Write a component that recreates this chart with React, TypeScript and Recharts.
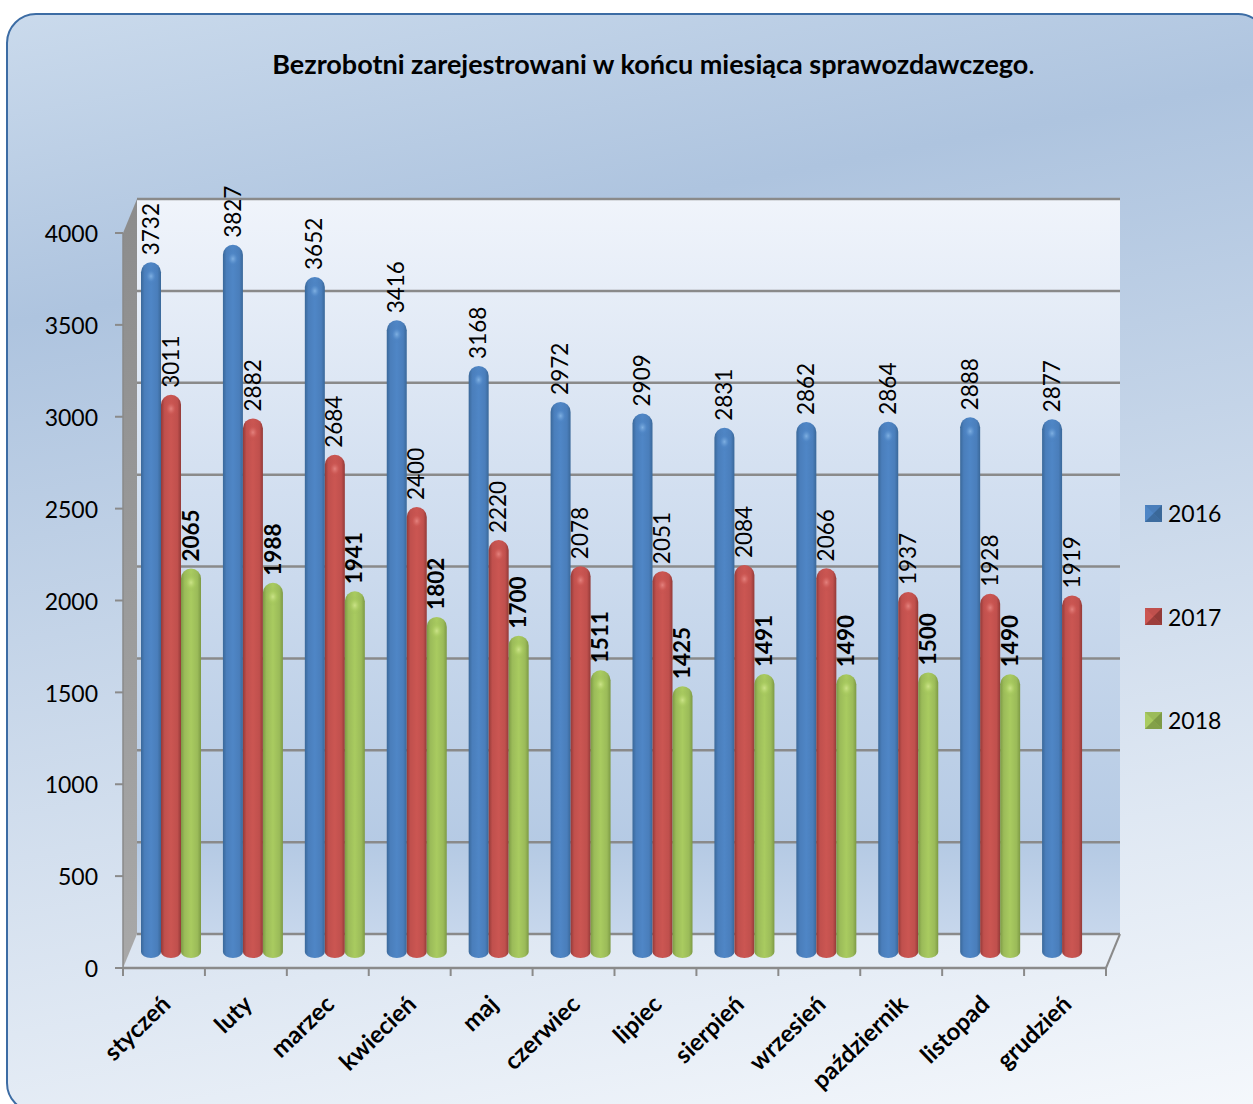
import { BarChart, Bar, XAxis, YAxis, CartesianGrid, Legend, LabelList } from 'recharts';

const months = ['styczeń', 'luty', 'marzec', 'kwiecień', 'maj', 'czerwiec', 'lipiec', 'sierpień', 'wrzesień', 'październik', 'listopad', 'grudzień'];
const values2016 = [3732, 3827, 3652, 3416, 3168, 2972, 2909, 2831, 2862, 2864, 2888, 2877];
const values2017 = [3011, 2882, 2684, 2400, 2220, 2078, 2051, 2084, 2066, 1937, 1928, 1919];
const values2018 = [2065, 1988, 1941, 1802, 1700, 1511, 1425, 1491, 1490, 1500, 1490, null];
const yTicks = [0, 500, 1000, 1500, 2000, 2500, 3000, 3500, 4000];

const chartData = months.map((month, i) => ({
  month,
  v2016: values2016[i],
  v2017: values2017[i],
  v2018: values2018[i],
}));

const FONT = 'Lato, sans-serif';
const WIDTH = 1253;
const HEIGHT = 1104;

// front plane of the fake 3D box
const LEFT = 123;
const RIGHT = 1106;
const TOP = 233;
const BOTTOM = 968;
const STEP = (RIGHT - LEFT) / months.length;
// how far the back wall sits from the front plane
const DEPTH_X = 14;
const DEPTH_Y = 34;
const GREY = '#8a8a8a';

const palette: Record<string, { edge: string; main: string; light: string; cap: string }> = {
  blue: { edge: '#3a6899', main: '#4a7ebb', light: '#4f86c6', cap: '#7fb0e2' },
  red: { edge: '#933a38', main: '#c0504d', light: '#cb5652', cap: '#e4827e' },
  green: { edge: '#7d9a45', main: '#9bbb59', light: '#a9cb60', cap: '#cbe388' },
};

function Cylinder({ x, y, width, height, name }: any) {
  if (height == null || !width) return null;
  const left = x + 7;
  const r = width / 2;
  const top = y - 20;
  const bottom = y + height - 10;
  const d = `M${left},${top + r} A${r},${r} 0 0 1 ${left + width},${top + r} L${left + width},${bottom - 6} A${r},6 0 0 1 ${left},${bottom - 6} Z`;
  return (
    <g>
      <path d={d} fill={`url(#body-${name})`} />
      <ellipse cx={left + r} cy={top + r + 3} rx={r - 2} ry={r} fill={`url(#cap-${name})`} />
    </g>
  );
}

const cylinderFor = (name: string) => (props: any) => <Cylinder {...props} name={name} />;

function ValueLabel({ x, y, width, value, bold }: any) {
  if (value == null) return null;
  const cx = x + 6.5 + width / 2;
  const cy = y - 27;
  return (
    <text
      x={cx}
      y={cy}
      transform={`rotate(-90 ${cx} ${cy})`}
      dy="0.36em"
      fontFamily={FONT}
      fontSize={22.5}
      fontWeight={bold ? 700 : 400}
      fill="#000"
    >
      {value}
    </text>
  );
}

const plainLabel = (props: any) => <ValueLabel {...props} />;
const boldLabel = (props: any) => <ValueLabel {...props} bold />;

function MonthTick({ x, y, index, payload }: any) {
  const tickStart = x - STEP / 2;
  return (
    <g>
      <line x1={tickStart} y1={BOTTOM} x2={tickStart} y2={BOTTOM + 8} stroke={GREY} strokeWidth={2} />
      {index === months.length - 1 && (
        <line x1={x + STEP / 2} y1={BOTTOM} x2={x + STEP / 2} y2={BOTTOM + 8} stroke={GREY} strokeWidth={2} />
      )}
      <text
        x={x + 8}
        y={y + 30}
        transform={`rotate(-44 ${x + 8} ${y + 30})`}
        textAnchor="end"
        fontFamily={FONT}
        fontSize={24}
        fontWeight={700}
        fill="#000"
      >
        {payload.value}
      </text>
    </g>
  );
}

function BackGridLine({ x1, x2, y1 }: any) {
  return <line x1={x1 + DEPTH_X} x2={x2 + DEPTH_X} y1={y1 - DEPTH_Y} y2={y1 - DEPTH_Y} stroke={GREY} strokeWidth={2.5} />;
}

function BevelIcon({ c }: { c: { edge: string; main: string; light: string } }) {
  return (
    <svg width={17} height={17} style={{ display: 'block' }}>
      <rect width={17} height={17} fill={c.main} />
      <polygon points="0,0 17,0 8.5,8.5" fill={c.main} />
      <polygon points="0,0 8.5,8.5 0,17" fill={c.light} />
      <polygon points="17,0 17,17 8.5,8.5" fill={c.edge} />
      <polygon points="0,17 17,17 8.5,8.5" fill={c.edge} opacity={0.8} />
    </svg>
  );
}

const legendItems = [
  { label: '2016', c: palette.blue },
  { label: '2017', c: palette.red },
  { label: '2018', c: palette.green },
];

function LegendBlock() {
  return (
    <div style={{ fontFamily: FONT, fontSize: 23, color: '#000' }}>
      {legendItems.map((item) => (
        <div key={item.label} style={{ display: 'flex', alignItems: 'center', gap: 6, height: 30, marginBottom: 73.5 }}>
          <BevelIcon c={item.c} />
          <span>{item.label}</span>
        </div>
      ))}
    </div>
  );
}

// walls of the box, sitting behind the transparent chart
function Walls() {
  return (
    <svg width={WIDTH} height={HEIGHT} style={{ position: 'absolute', left: 0, top: 0 }}>
      <defs>
        <linearGradient id="wall" x1="0" y1="0" x2="0" y2="1">
          <stop offset="0%" stopColor="#f0f4fb" />
          <stop offset="40%" stopColor="#d2dff0" />
          <stop offset="88%" stopColor="#b5cae4" />
          <stop offset="100%" stopColor="#c7d7ec" />
        </linearGradient>
        <linearGradient id="side" x1="0" y1="0" x2="0" y2="1">
          <stop offset="0%" stopColor="#8c8c8c" />
          <stop offset="100%" stopColor="#a8a8a8" />
        </linearGradient>
      </defs>
      <polygon
        points={`${LEFT + DEPTH_X},${TOP - DEPTH_Y} ${RIGHT + DEPTH_X},${TOP - DEPTH_Y} ${RIGHT + DEPTH_X},${BOTTOM - DEPTH_Y} ${LEFT + DEPTH_X},${BOTTOM - DEPTH_Y}`}
        fill="url(#wall)"
      />
      <polygon
        points={`${LEFT},${TOP} ${LEFT + DEPTH_X},${TOP - DEPTH_Y} ${LEFT + DEPTH_X},${BOTTOM - DEPTH_Y} ${LEFT},${BOTTOM}`}
        fill="url(#side)"
      />
      <line x1={RIGHT} y1={BOTTOM} x2={RIGHT + DEPTH_X} y2={BOTTOM - DEPTH_Y} stroke={GREY} strokeWidth={2} />
    </svg>
  );
}

export default function App() {
  return (
    <div style={{ position: 'absolute', left: 0, top: 0, width: WIDTH, height: HEIGHT, overflow: 'hidden', background: '#fff' }}>
      <div
        style={{
          position: 'absolute',
          left: 6,
          top: 13,
          width: 1262,
          height: 1100,
          boxSizing: 'border-box',
          border: '2px solid #3c6ca4',
          borderRadius: 30,
          background: 'linear-gradient(169deg, #cadaec 0%, #aec4df 23%, #f5f8fc 100%)',
        }}
      />
      <div
        style={{
          position: 'absolute',
          left: 0,
          top: 47,
          width: 1307,
          textAlign: 'center',
          fontFamily: FONT,
          fontSize: 27,
          fontWeight: 700,
          color: '#000',
        }}
      >
        Bezrobotni zarejestrowani w końcu miesiąca sprawozdawczego<span style={{ fontWeight: 400 }}>.</span>
      </div>
      <Walls />
      <div style={{ position: 'absolute', left: 0, top: 0 }}>
        <BarChart
          width={WIDTH}
          height={HEIGHT}
          data={chartData}
          margin={{ top: TOP, right: WIDTH - RIGHT, bottom: 0, left: 0 }}
          barSize={20}
          barGap={0}
        >
          <defs>
            {Object.entries(palette).map(([name, c]) => (
              <linearGradient key={name} id={`body-${name}`} x1="0" y1="0" x2="1" y2="0">
                <stop offset="0%" stopColor={c.edge} />
                <stop offset="18%" stopColor={c.main} />
                <stop offset="50%" stopColor={c.light} />
                <stop offset="82%" stopColor={c.main} />
                <stop offset="100%" stopColor={c.edge} />
              </linearGradient>
            ))}
            {Object.entries(palette).map(([name, c]) => (
              <radialGradient key={name} id={`cap-${name}`} cx="50%" cy="55%" r="50%">
                <stop offset="0%" stopColor={c.cap} />
                <stop offset="55%" stopColor={c.light} stopOpacity={0.6} />
                <stop offset="100%" stopColor={c.main} stopOpacity={0} />
              </radialGradient>
            ))}
          </defs>
          <CartesianGrid vertical={false} horizontal={(props: any) => <BackGridLine {...props} />} />
          <XAxis
            dataKey="month"
            height={HEIGHT - BOTTOM}
            interval={0}
            axisLine={{ stroke: GREY, strokeWidth: 2.5 }}
            tickLine={false}
            tick={(props: any) => <MonthTick {...props} />}
          />
          <YAxis
            width={LEFT}
            domain={[0, 4000]}
            ticks={yTicks}
            axisLine={{ stroke: GREY, strokeWidth: 1.5 }}
            tickLine={{ stroke: GREY, strokeWidth: 2 }}
            tickSize={8}
            tickMargin={17}
            tick={{ fontFamily: FONT, fontSize: 23, fill: '#000', dy: 1 }}
          />
          <Legend
            layout="vertical"
            align="center"
            verticalAlign="middle"
            wrapperStyle={{ left: 1145, top: 498, width: 100, right: 'auto', bottom: 'auto' }}
            content={() => <LegendBlock />}
          />
          <Bar dataKey="v2016" name="2016" isAnimationActive={false} shape={cylinderFor('blue')}>
            <LabelList dataKey="v2016" content={plainLabel} />
          </Bar>
          <Bar dataKey="v2017" name="2017" isAnimationActive={false} shape={cylinderFor('red')}>
            <LabelList dataKey="v2017" content={plainLabel} />
          </Bar>
          <Bar dataKey="v2018" name="2018" isAnimationActive={false} shape={cylinderFor('green')}>
            <LabelList dataKey="v2018" content={boldLabel} />
          </Bar>
        </BarChart>
      </div>
    </div>
  );
}
